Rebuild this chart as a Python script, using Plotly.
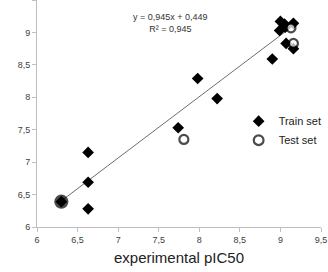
import plotly.graph_objects as go

train_x = [7.98, 8.22, 7.74, 8.90, 9.07, 9.16, 9.00, 8.99, 9.05, 9.16, 9.06, 6.63, 6.63, 6.63, 6.30]
train_y = [8.29, 7.98, 7.53, 8.59, 8.83, 8.75, 9.17, 9.03, 9.13, 9.14, 9.08, 7.15, 6.69, 6.28, 6.39]
test_x = [9.13, 9.16, 7.81, 6.30]
test_y = [9.07, 8.83, 7.35, 6.39]
test_fill = ["white", "white", "white", "black"]

slope = 0.945
intercept = 0.449
fit_x = [6.30, 9.10]
fit_y = [slope * v + intercept for v in fit_x]

tick_vals = [6, 6.5, 7, 7.5, 8, 8.5, 9, 9.5]
tick_text = ["6", "6,5", "7", "7,5", "8", "8,5", "9", "9,5"]

font = "Liberation Sans"

fig = go.Figure()
fig.add_trace(go.Scatter(x=fit_x, y=fit_y, mode="lines",
                         line=dict(color="#6e6e6e", width=1), showlegend=False, hoverinfo="skip"))
fig.add_trace(go.Scatter(x=train_x, y=train_y, mode="markers", name="Train set",
                         marker=dict(symbol="diamond", size=9, color="black")))
fig.add_trace(go.Scatter(x=test_x, y=test_y, mode="markers", name="Test set",
                         marker=dict(symbol="circle", size=[9, 9, 9, 12], color=test_fill,
                                     line=dict(color="black", width=2.2))))

fig.add_annotation(x=0.47, y=0.955, xref="paper", yref="paper", showarrow=False,
                   text="y = 0,945x + 0,449<br>R² = 0,945", align="center",
                   font=dict(family=font, size=9, color="#333333"))
fig.add_annotation(x=-0.155, y=0.56, xref="paper", yref="paper", showarrow=False,
                   xanchor="right", yanchor="middle", textangle=-90,
                   text="predicted pIC50", font=dict(family=font, size=15, color="#d6f4f4"))

axis_common = dict(showline=True, linecolor="#bfbfbf", linewidth=1, ticks="outside",
                   ticklen=4, tickcolor="#bfbfbf", showgrid=False, zeroline=False,
                   tickfont=dict(family=font, size=9, color="#404040"),
                   tickvals=tick_vals, ticktext=tick_text)

fig.update_layout(
    width=328, height=272,
    margin=dict(l=37, r=7, t=0, b=45),
    paper_bgcolor="white", plot_bgcolor="white",
    xaxis=dict(range=[6, 9.5], title=dict(text="experimental pIC50", standoff=8,
               font=dict(family=font, size=15, color="#222222")), **axis_common),
    yaxis=dict(range=[6, 9.5], **axis_common),
    legend=dict(x=0.71, y=0.53, xanchor="left", yanchor="top", bgcolor="rgba(0,0,0,0)",
                font=dict(family=font, size=11, color="#222222"),
                itemwidth=30, tracegroupgap=10),
    showlegend=True,
)

fig.write_html("out.html")
